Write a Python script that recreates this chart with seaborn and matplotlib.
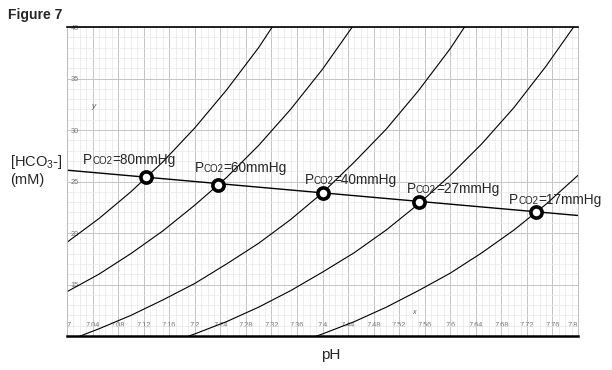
import numpy as np
import pandas as pd
import seaborn as sns
import matplotlib.pyplot as plt
from matplotlib.offsetbox import TextArea, HPacker, AnnotationBbox
from matplotlib.ticker import MultipleLocator

nan = np.nan

# pH values where the isobars were read
ph = [7.00, 7.05, 7.10, 7.15, 7.20, 7.25, 7.30, 7.35, 7.40,
      7.45, 7.50, 7.55, 7.60, 7.65, 7.70, 7.75, 7.80]

# [HCO3-] (mM) read along each PCO2 isobar
hco3_80 = [19.1, 21.4, 24.0, 26.9, 30.2, 33.9, 38.0, 42.7, nan,
           nan, nan, nan, nan, nan, nan, nan, nan]
hco3_60 = [14.3, 16.0, 18.0, 20.2, 22.7, 25.4, 28.5, 32.0, 35.9,
           40.3, nan, nan, nan, nan, nan, nan, nan]
hco3_40 = [9.5, 10.7, 12.0, 13.5, 15.1, 17.0, 19.0, 21.3, 23.9,
           26.9, 30.1, 33.8, 37.9, 42.6, nan, nan, nan]
hco3_27 = [nan, nan, nan, 9.1, 10.2, 11.4, 12.8, 14.4, 16.2,
           18.1, 20.3, 22.8, 25.6, 28.7, 32.2, 36.2, 40.6]
hco3_17 = [nan, nan, nan, nan, nan, nan, nan, 9.1, 10.2,
           11.4, 12.8, 14.4, 16.1, 18.1, 20.3, 22.8, 25.6]

# buffer line
buffer_ph = [7.0, 7.8]
buffer_hco3 = [26.1, 21.7]

# marked points
pco2 = ['80', '60', '40', '27', '17']
point_ph = [7.124, 7.236, 7.40, 7.551, 7.735]
point_hco3 = [25.4, 24.7, 23.9, 23.0, 22.0]

x_ticks = [7.00, 7.04, 7.08, 7.12, 7.16, 7.20, 7.24, 7.28, 7.32, 7.36, 7.40,
           7.44, 7.48, 7.52, 7.56, 7.60, 7.64, 7.68, 7.72, 7.76, 7.80]
y_ticks = [15, 20, 25, 30, 35, 40]

# long form table for seaborn
curves = pd.DataFrame({
    'pH': ph * 5,
    'HCO3': hco3_80 + hco3_60 + hco3_40 + hco3_27 + hco3_17,
    'PCO2': sum([[p] * len(ph) for p in pco2], []),
}).dropna()
points = pd.DataFrame({'pH': point_ph, 'HCO3': point_hco3, 'PCO2': pco2})

sns.set_style('white')
plt.rcParams['font.family'] = ['Liberation Sans', 'DejaVu Sans']

fig = plt.figure(figsize=(6.12, 3.70), dpi=100)
ax = fig.add_axes([67 / 612, 1 - 336 / 370, 511 / 612, 309 / 370])

# grid
ax.xaxis.set_major_locator(MultipleLocator(0.04))
ax.xaxis.set_minor_locator(MultipleLocator(0.01))
ax.yaxis.set_major_locator(MultipleLocator(5))
ax.yaxis.set_minor_locator(MultipleLocator(1))
ax.grid(which='major', color='#c4c4c4', linewidth=0.7)
ax.grid(which='minor', color='#e8e8e8', linewidth=0.5)
ax.set_axisbelow(True)

sns.lineplot(data=curves, x='pH', y='HCO3', hue='PCO2', units='PCO2', estimator=None,
             palette=['black'] * 5, linewidth=0.8, legend=False, sort=True, ax=ax)
ax.plot(buffer_ph, buffer_hco3, color='black', linewidth=1.0)
sns.scatterplot(data=points, x='pH', y='HCO3', s=65, color='white', edgecolor='black',
                linewidth=2.6, zorder=5, legend=False, ax=ax)

ax.set_xlim(7.0, 7.8)
ax.set_ylim(10, 40)

# labels "PCO2=..mmHg" with small CO2
label_xy = [(7.025, 27.1), (7.200, 26.3), (7.372, 25.1), (7.532, 24.3), (7.692, 23.2)]
for p, (lx, ly) in zip(pco2, label_xy):
    box = HPacker(children=[TextArea('P', textprops=dict(size=9.8)),
                            TextArea('CO2', textprops=dict(size=7)),
                            TextArea('=' + p + 'mmHg', textprops=dict(size=9.8))],
                  align='baseline', pad=0, sep=0)
    ab = AnnotationBbox(box, (lx, ly), box_alignment=(0, 0.5), frameon=False, pad=0, zorder=6)
    ax.add_artist(ab)

# ticks drawn inside the plot area
ax.set_xticks(x_ticks)
ax.set_xticklabels(['%g' % t for t in x_ticks])
ax.set_yticks(y_ticks)
ax.set_yticklabels(['%g' % t for t in y_ticks])
ax.tick_params(axis='x', which='major', labelsize=5.3, labelcolor='#777777', pad=-10,
               length=0)
ax.tick_params(axis='y', which='major', labelsize=5.3, labelcolor='#777777', pad=-4,
               length=3, color='#999999', direction='inout')
ax.tick_params(which='minor', length=0)
for t in ax.get_yticklabels():
    t.set_horizontalalignment('left')
xl = ax.get_xticklabels()
xl[0].set_horizontalalignment('left')
xl[-1].set_horizontalalignment('right')

ax.set_xlabel('')
ax.set_ylabel('')

# tiny axis letters
ax.text(7.038, 32.1, 'y', fontsize=6, color='#555555', style='italic')
ax.text(7.540, 12.1, 'x', fontsize=5, color='#555555', style='italic')

for s in ['left', 'right']:
    ax.spines[s].set_color('#bdbdbd')
    ax.spines[s].set_linewidth(0.7)
ax.spines['top'].set_color('black')
ax.spines['top'].set_linewidth(1.2)
ax.spines['bottom'].set_color('black')
ax.spines['bottom'].set_linewidth(1.8)

fig.text(8 / 612, 1 - 15 / 370, 'Figure 7', fontsize=10, fontweight='bold', va='center')
fig.text(10 / 612, 1 - 162 / 370, '[HCO$_{\\mathregular{3}}$-]', fontsize=10.5, va='center')
fig.text(10 / 612, 1 - 180 / 370, '(mM)', fontsize=10.5, va='center')
fig.text(331 / 612, 1 - 355 / 370, 'pH', fontsize=11, ha='center', va='center')

fig.savefig('out.png', dpi=100)
